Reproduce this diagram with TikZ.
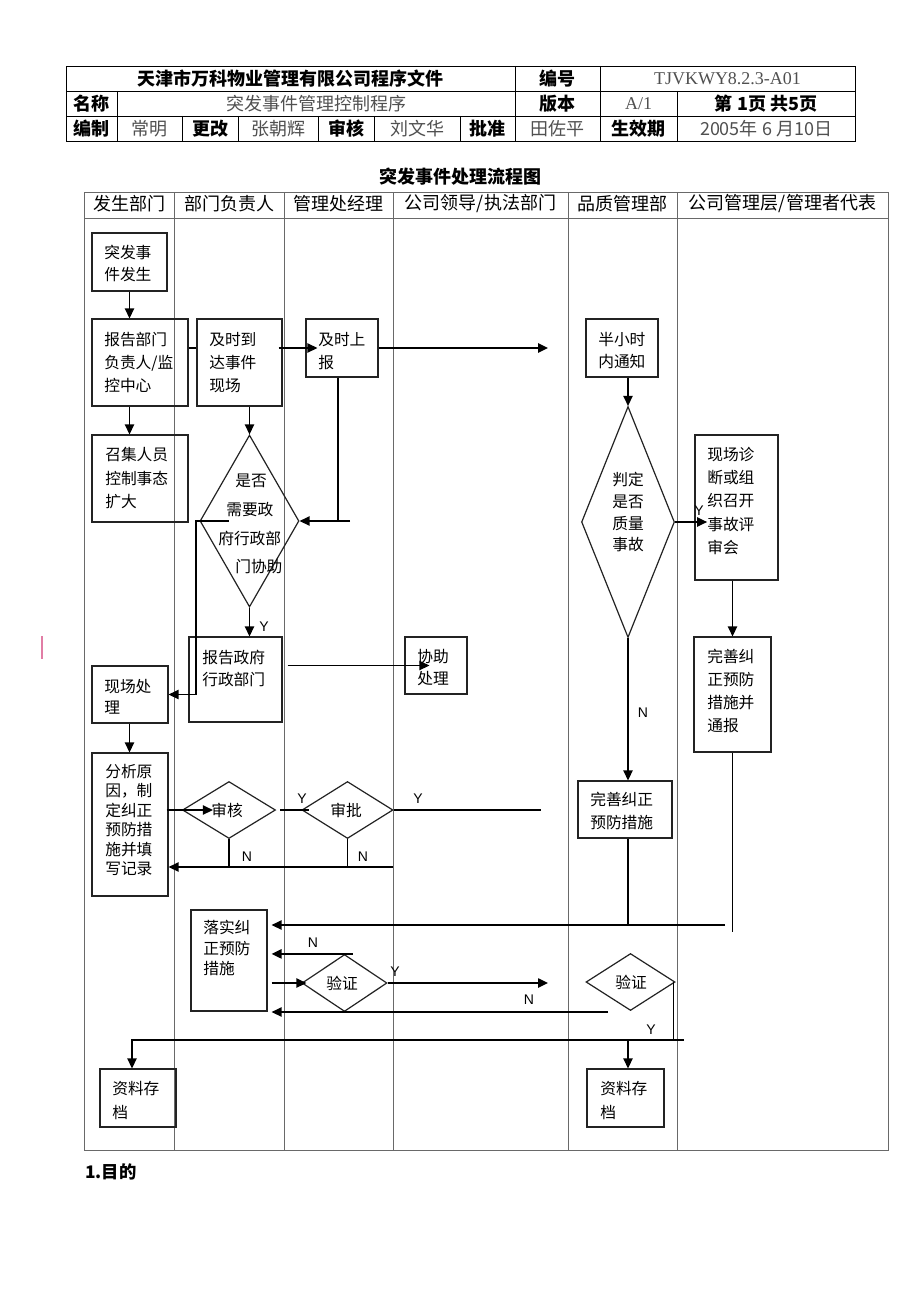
\documentclass[tikz,border=0pt]{standalone}
\usepackage{fontspec}
\setmainfont{Liberation Serif}
\newfontfamily\cjk{Noto Sans CJK SC}
\newfontfamily\lsans{Liberation Sans}
\usetikzlibrary{fit,shapes.geometric,arrows.meta,calc}
\definecolor{lanegray}{RGB}{105,105,105}
\definecolor{txtgray}{RGB}{80,80,80}
\definecolor{pinkmark}{RGB}{225,125,165}
\definecolor{boxline}{RGB}{35,35,35}
\begin{document}
\begin{tikzpicture}[x=0.75pt,y=-0.75pt,
  tbl/.style={draw=black,line width=0.65pt},
  lane/.style={draw=lanegray,line width=0.7pt},
  box/.style={draw=boxline,line width=0.9pt,rectangle,inner sep=0pt},
  dia/.style={draw=boxline,line width=0.9pt,diamond,inner sep=0pt},
  conn/.style={draw=black,line width=1.1pt},
  arr/.style={conn,-{Triangle[length=7.5pt,width=7pt]}},
  txt/.style={font=\cjk\fontsize{11.8}{#1}\selectfont,align=left,inner sep=0pt,anchor=north west},
  txt/.default=17.25,
  ctxt/.style={font=\cjk\fontsize{11.8}{14}\selectfont,inner sep=0pt},
  yn/.style={font=\lsans\fontsize{10.5}{12}\selectfont,inner sep=0pt},
  hb/.style={font=\cjk\bfseries\fontsize{13.5}{16}\selectfont,inner sep=0pt},
  hr/.style={font=\cjk\fontsize{13.5}{16}\selectfont,text=txtgray,inner sep=0pt},
  hrm/.style={font=\rmfamily\fontsize{13.5}{16}\selectfont,text=txtgray,inner sep=0pt},
  lh/.style={font=\cjk\fontsize{13.5}{16}\selectfont,inner sep=0pt},
]
\useasboundingbox[fill=white] (0,0) rectangle (920,1302);

% ---------- header table ----------
\draw[tbl] (66,66) rectangle (855,141);
\draw[tbl] (66,91) -- (855,91);
\draw[tbl] (66,116) -- (855,116);
\foreach \x in {515,600} \draw[tbl] (\x,66) -- (\x,141);
\foreach \x in {117,677} \draw[tbl] (\x,91) -- (\x,141);
\foreach \x in {182,238,318,374,460} \draw[tbl] (\x,116) -- (\x,141);

\node[hb] (h1) at (290.5,78.5) {天津市万科物业管理有限公司程序文件};
\node[hb] (h2) at (557.5,78.5) {编号};
\node[hrm] (h3) at (727.5,78.5) {TJVKWY8.2.3-A01};
\node[hb] (h4) at (91.5,103.5) {名称};
\node[hr] (h5) at (316,103.5) {突发事件管理控制程序};
\node[hb] (h6) at (557.5,103.5) {版本};
\node[hrm] (h7) at (638.5,103.5) {A/1};
\node[hb] (h8) at (766,103.5) {第 1页 共5页};
\node[hb] (h9) at (91.5,128.5) {编制};
\node[hr] (h10) at (149.5,128.5) {常明};
\node[hb] (h11) at (210,128.5) {更改};
\node[hr] (h12) at (278,128.5) {张朝辉};
\node[hb] (h13) at (346,128.5) {审核};
\node[hr] (h14) at (417,128.5) {刘文华};
\node[hb] (h15) at (487.5,128.5) {批准};
\node[hr] (h16) at (557.5,128.5) {田佐平};
\node[hb] (h17) at (638.5,128.5) {生效期};
\node[hr] (h18) at (766,128.5) {2005年 6 月10日};

% ---------- title and lanes ----------
\node[hb] (title) at (460.5,177) {突发事件处理流程图};
\draw[lane] (84,192) rectangle (888,1150);
\draw[lane] (84,218) -- (888,218);
\foreach \x in {174,284,393,568,677} \draw[lane] (\x,192) -- (\x,1150);
\node[lh] (l1) at (129,204) {发生部门};
\node[lh] (l2) at (229,204) {部门负责人};
\node[lh] (l3) at (338.5,204) {管理处经理};
\node[lh] (l4) at (480.5,204) {公司领导/执法部门};
\node[lh] (l5) at (622.5,204) {品质管理部};
\node[lh] (l6) at (782.5,204) {公司管理层/管理者代表};

\draw[pinkmark,line width=1.2pt] (42,636) -- (42,659);

% ---------- boxes ----------
\node[box,fit={(92,233) (167,291)}] (b1) {};
\node[box,fit={(92,319) (188,406)}] (b2) {};
\node[box,fit={(92,435) (188,522)}] (b3) {};
\node[box,fit={(197,319) (282,406)}] (b4) {};
\node[box,fit={(306,319) (378,377)}] (b5) {};
\node[box,fit={(586,319) (658,377)}] (b6) {};
\node[box,fit={(695,435) (778,580)}] (b8) {};
\node[box,fit={(189,637) (282,722)}] (b10) {};
\node[box,fit={(405,637) (467,694)}] (b11) {};
\node[box,fit={(92,666) (168,723)}] (b12) {};
\node[box,fit={(92,753) (168,896)}] (b13) {};
\node[box,fit={(578,781) (672,838)}] (b16) {};
\node[box,fit={(694,637) (771,752)}] (b17) {};
\node[box,fit={(191,910) (267,1011)}] (b18) {};
\node[box,fit={(100,1069) (176,1127)}] (b21) {};
\node[box,fit={(587,1069) (664,1127)}] (b22) {};

% ---------- diamonds ----------
\node[dia,minimum width=99*0.75pt,minimum height=172*0.75pt] (d1) at (249.5,521) {};
\node[dia,minimum width=93*0.75pt,minimum height=231*0.75pt] (d7) at (628,522) {};
\node[dia,minimum width=93*0.75pt,minimum height=57*0.75pt] (d14) at (229,810) {};
\node[dia,minimum width=91*0.75pt,minimum height=57*0.75pt] (d15) at (347.5,810) {};
\node[dia,minimum width=85*0.75pt,minimum height=57*0.75pt] (d19) at (344.5,983) {};
\node[dia,minimum width=89*0.75pt,minimum height=57*0.75pt] (d20) at (630.5,982) {};

% ---------- texts ----------
\node[txt=16.5] (t1) at (104,245) {突发事\\件发生};
\node[txt=17.25] (t2) at (104,332) {报告部门\\负责人/监\\控中心};
\node[txt=17.6] (t3) at (105,447) {召集人员\\控制事态\\扩大};
\node[txt=17.25] (t4) at (209,332) {及时到\\达事件\\现场};
\node[txt=17.25] (t5) at (318,332) {及时上\\报};
\node[txt=16.5] (t6) at (598,332) {半小时\\内通知};
\node[txt=16.3] (t7) at (612,472) {判定\\是否\\质量\\事故};
\node[txt=17.4] (t8) at (707,447) {现场诊\\断或组\\织召开\\事故评\\审会};
\node[txt=21.5] (t9) at (218,474) {\hspace*{12.75pt}是否\\\hspace*{6pt}需要政\\府行政部\\\hspace*{12.75pt}门协助};
\node[txt=16.5] (t10) at (202,650) {报告政府\\行政部门};
\node[txt=16.5] (t11) at (417,649) {协助\\处理};
\node[txt=15.75] (t12) at (104,679) {现场处\\理};
\node[txt=14.6] (t13) at (105,764) {分析原\\因，制\\定纠正\\预防措\\施并填\\写记录};
\node[ctxt] (t14) at (227,810) {审核};
\node[ctxt] (t15) at (346,810) {审批};
\node[txt=17.25] (t16) at (590,792) {完善纠正\\预防措施};
\node[txt=17.25] (t17) at (707,649) {完善纠\\正预防\\措施并\\通报};
\node[txt=15.4] (t18) at (203,920) {落实纠\\正预防\\措施};
\node[ctxt] (t19) at (342,983) {验证};
\node[ctxt] (t20) at (631,982) {验证};
\node[txt=18] (t21) at (112,1081) {资料存\\档};
\node[txt=18] (t22) at (600,1081) {资料存\\档};

% ---------- free ends ----------
\coordinate (e1) at (548,348);
\coordinate (f1) at (350,521);
\coordinate (m1) at (541,810);
\coordinate (n1) at (393,867);
\coordinate (r1) at (725,925);
\coordinate (x1) at (548,983);
\coordinate (y1) at (608,1012);
\coordinate (r2) at (684,1040);
\coordinate (r3) at (132,1040);
\coordinate (b5s) at ($(b5.south)+(-4,0)$);

% ---------- connectors ----------
\draw[arr] (b1.south) -- (b1.south |- b2.north);
\draw[arr] (b1.south |- b2.south) -- (b1.south |- b3.north);
\draw[conn] (b2.east |- b5.west) -- (b4.west |- b5.west);
\draw[arr] ($(b4.east |- b5.west)+(-4,0)$) -- ($(b5.west)+(12,0)$);
\draw[arr] (b5.east) -- (e1);
\draw[conn] (b5s) -- (b5s |- f1);
\draw[arr] (f1) -- (d1.east);
\draw[arr] (d1.north |- b4.south) -- (d1.north);
\draw[arr] (d1.south) -- (d1.south |- b10.north);
\draw[conn] (d1.west) -- ++(30,0);
\draw[arr] (d1.west) -- ++(-3.5,0) |- (b12.east);
\draw[arr] ($(b10.east |- b11.west)+(5,0)$) -- ($(b11.west)+(25,0)$);
\draw[arr] (b12.south -| b1.south) -- (b1.south |- b13.north);
\draw[arr] ($(b13.east |- d14.west)+(-2,0)$) -- ($(d14.west)+(31,0)$);
\draw[conn] ($(d14.east)+(4,0)$) -- ($(d15.west)+(8,0)$);
\draw[conn] (d15.east) -- (m1);
\draw[conn] (d14.south) -- (d14.south |- n1);
\draw[conn] (d15.south) -- (d15.south |- n1);
\draw[arr] (n1) -- (n1 -| b13.east);
\draw[arr] (d7.north |- b6.south) -- (d7.north);
\draw[arr] (d7.east) -- ($(d7.east)+(32,0)$);
\draw[arr] (b8.south -| b17.north) -- (b17.north);
\draw[arr] (d7.south) -- (d7.south |- b16.north);
\draw[conn] (d7.south |- b16.south) -- (d7.south |- r1);
\draw[conn] (b17.south) -- ($(b17.south |- r1)+(0,7)$);
\draw[arr] (r1) -- ($(r1 -| b18.east)+(4,0)$);
\draw[arr] ($(d19.north)+(8,0)$) -- ($(d19.north -| b18.east)+(4,0)$);
\draw[arr] ($(b18.east |- d19.west)+(4,0)$) -- ($(d19.west)+(5,0)$);
\draw[arr] (d19.east) -- (x1);
\draw[arr] (y1) -- ($(y1 -| b18.east)+(4,0)$);
\draw[conn] ($(d20.east)+(-2,0)$) -- ($(d20.east |- r2)+(-2,0)$);
\draw[arr] (r2) -- (r3) -- (r3 |- b21.north);
\draw[arr] (d7.south |- r2) -- (d7.south |- b22.north);

% ---------- Y / N labels ----------
\node[yn] (y1l) at (264,627) {Y};
\node[yn] (y2l) at (302,799) {Y};
\node[yn] (y3l) at (418,799) {Y};
\node[yn] (n1l) at (247,857) {N};
\node[yn] (n2l) at (363,857) {N};
\node[yn] (y4l) at (699,511) {Y};
\node[yn] (n3l) at (643,713) {N};
\node[yn] (n4l) at (313,943) {N};
\node[yn] (y5l) at (395,972) {Y};
\node[yn] (n5l) at (529,1000) {N};
\node[yn] (y6l) at (651,1030) {Y};

% ---------- footer ----------
\node[font=\cjk\bfseries\fontsize{13}{15}\selectfont,inner sep=0pt,anchor=west] (foot) at (85,1172) {1.目的};
\end{tikzpicture}
\end{document}
